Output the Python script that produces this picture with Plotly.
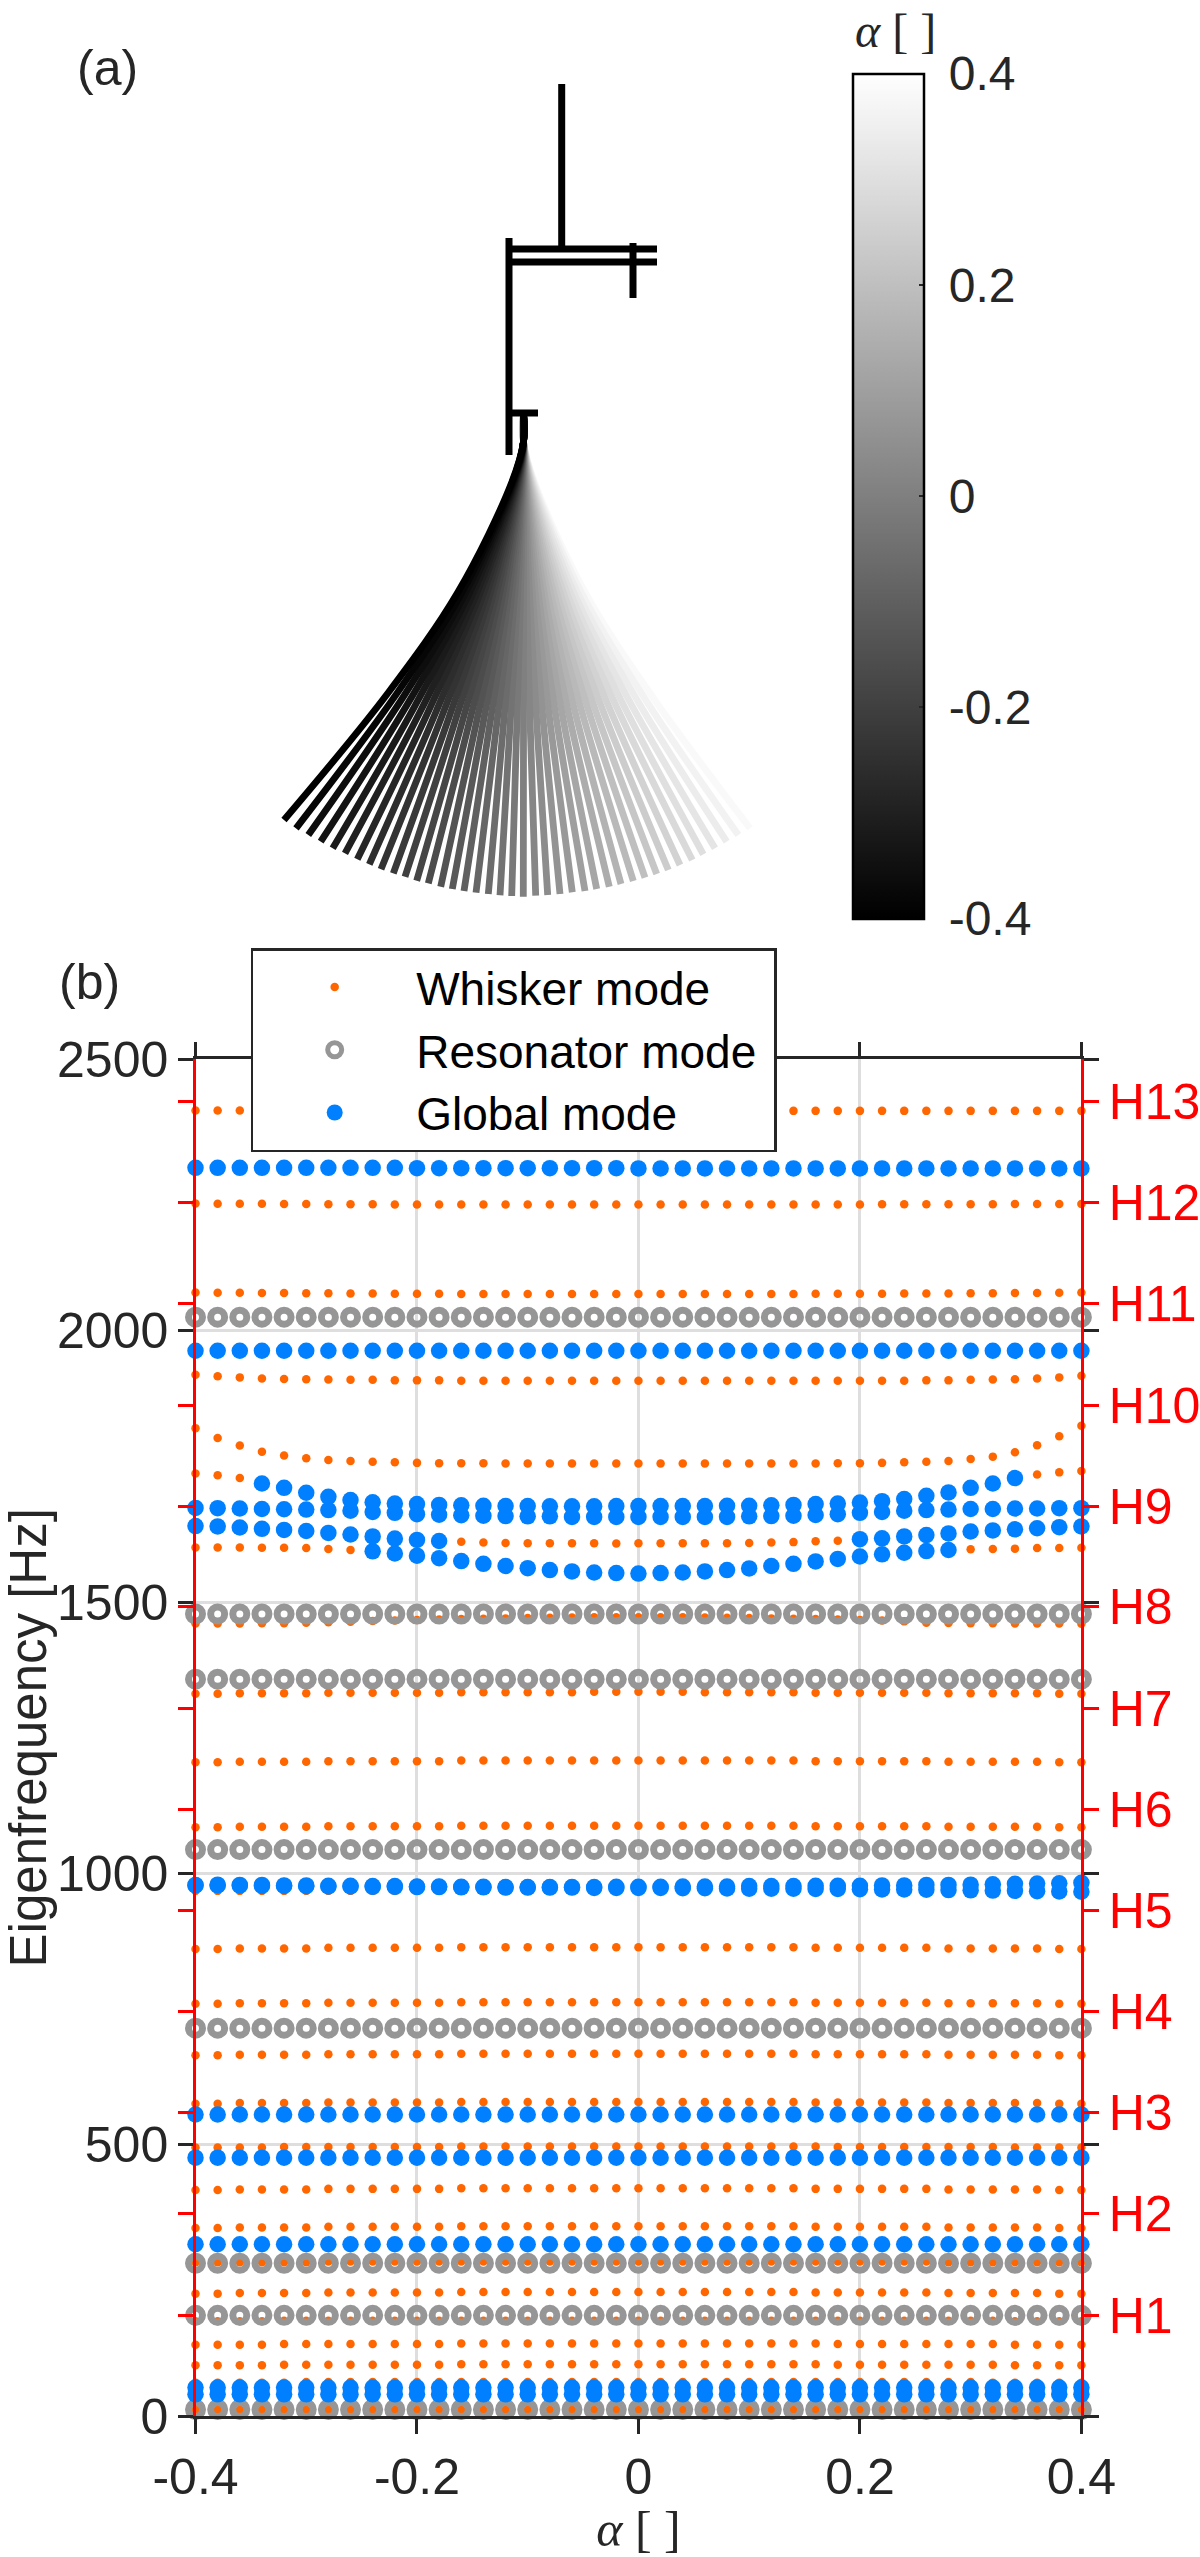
import plotly.graph_objects as go

W, H = 1200, 2557

# ---- panel (b): eigenfrequencies [Hz]
alpha = [-0.4, -0.38, -0.36, -0.34, -0.32, -0.3, -0.28, -0.26, -0.24, -0.22, -0.2, -0.18, -0.16, -0.14,
         -0.12, -0.1, -0.08, -0.06, -0.04, -0.02, 0, 0.02, 0.04, 0.06, 0.08, 0.1, 0.12, 0.14, 0.16, 0.18,
         0.2, 0.22, 0.24, 0.26, 0.28, 0.3, 0.32, 0.34, 0.36, 0.38, 0.4]
N = None

whisker = [
    [12, 12, 12, 12, 12, 12, 12, 12, 12, 12, 12, 12, 12, 12, 12, 12, 12, 12, 12, 12, 12, 12, 12, 12, 12, 12, 12, 12, 12, 12, 12, 12, 12, 12, 12, 12, 12, 12, 12, 12, 12],
    [62, 62, 62, 62, 62, 63, 63, 63, 63, 63, 63, 63, 63, 63, 63, 63, 63, 63, 63, 63, 63, 63, 63, 63, 63, 63, 63, 63, 63, 63, 63, 63, 63, 63, 63, 63, 62, 62, 62, 62, 62],
    [94, 94, 94, 94, 95, 95, 95, 95, 95, 95, 95, 95, 96, 96, 96, 96, 96, 96, 96, 96, 96, 96, 96, 96, 96, 96, 96, 96, 96, 95, 95, 95, 95, 95, 95, 95, 95, 94, 94, 94, 94],
    [132, 132, 132, 132, 133, 133, 133, 133, 133, 133, 133, 133, 134, 134, 134, 134, 134, 134, 134, 134, 134, 134, 134, 134, 134, 134, 134, 134, 134, 133, 133, 133, 133, 133, 133, 133, 133, 132, 132, 132, 132],
    [175, 175, 175, 175, 176, 176, 176, 176, 176, 176, 176, 176, 176, 176, 176, 176, 176, 176, 176, 176, 176, 176, 176, 176, 176, 176, 176, 176, 176, 176, 176, 176, 176, 176, 176, 176, 176, 175, 175, 175, 175],
    [226, 226, 227, 227, 227, 227, 228, 228, 228, 228, 228, 228, 229, 229, 229, 229, 229, 229, 229, 229, 229, 229, 229, 229, 229, 229, 229, 229, 228, 228, 228, 228, 228, 228, 227, 227, 227, 227, 227, 226, 226],
    [284, 284, 284, 284, 284, 284, 285, 285, 285, 285, 285, 285, 285, 285, 285, 285, 285, 285, 285, 285, 285, 285, 285, 285, 285, 285, 285, 285, 285, 285, 285, 285, 285, 285, 284, 284, 284, 284, 284, 284, 284],
    [347, 347, 348, 348, 348, 348, 349, 349, 349, 349, 349, 349, 350, 350, 350, 350, 350, 350, 350, 350, 350, 350, 350, 350, 350, 350, 350, 350, 349, 349, 349, 349, 349, 349, 348, 348, 348, 348, 348, 347, 347],
    [417, 417, 418, 418, 418, 418, 419, 419, 419, 419, 419, 419, 420, 420, 420, 420, 420, 420, 420, 420, 420, 420, 420, 420, 420, 420, 420, 420, 419, 419, 419, 419, 419, 419, 418, 418, 418, 418, 418, 417, 417],
    [495, 495, 495, 495, 496, 496, 496, 496, 496, 496, 496, 496, 497, 497, 497, 497, 497, 497, 497, 497, 497, 497, 497, 497, 497, 497, 497, 497, 497, 496, 496, 496, 496, 496, 496, 496, 496, 495, 495, 495, 495],
    [576, 576, 577, 577, 577, 577, 578, 578, 578, 578, 578, 578, 579, 579, 579, 579, 579, 579, 579, 579, 579, 579, 579, 579, 579, 579, 579, 579, 578, 578, 578, 578, 578, 578, 577, 577, 577, 577, 577, 576, 576],
    [665, 665, 666, 666, 666, 666, 667, 667, 667, 667, 667, 667, 668, 668, 668, 668, 668, 668, 668, 668, 668, 668, 668, 668, 668, 668, 668, 668, 667, 667, 667, 667, 667, 667, 666, 666, 666, 666, 666, 665, 665],
    [760, 760, 761, 761, 761, 761, 762, 762, 762, 762, 762, 762, 763, 763, 763, 763, 763, 763, 763, 763, 763, 763, 763, 763, 763, 763, 763, 763, 762, 762, 762, 762, 762, 762, 761, 761, 761, 761, 761, 760, 760],
    [861, 861, 862, 862, 862, 862, 863, 863, 863, 863, 863, 863, 864, 864, 864, 864, 864, 864, 864, 864, 864, 864, 864, 864, 864, 864, 864, 864, 863, 863, 863, 863, 863, 863, 862, 862, 862, 862, 862, 861, 861],
    [968, 968, 968, 968, 968, 968, 968, 968, 968, 968, 968, 968, 968, 968, 968, 968, 968, 968, 968, 968, 968, 968, 968, 968, 968, 968, 968, 968, 968, 968, 968, 968, 968, 968, 968, 968, 968, 968, 968, 968, 968],
    [1085, 1085, 1086, 1086, 1086, 1086, 1087, 1087, 1087, 1087, 1087, 1087, 1088, 1088, 1088, 1088, 1088, 1088, 1088, 1088, 1088, 1088, 1088, 1088, 1088, 1088, 1088, 1088, 1087, 1087, 1087, 1087, 1087, 1087, 1086, 1086, 1086, 1086, 1086, 1085, 1085],
    [1205, 1205, 1206, 1206, 1206, 1206, 1207, 1207, 1207, 1207, 1207, 1207, 1208, 1208, 1208, 1208, 1208, 1208, 1208, 1208, 1208, 1208, 1208, 1208, 1208, 1208, 1208, 1208, 1207, 1207, 1207, 1207, 1207, 1207, 1206, 1206, 1206, 1206, 1206, 1205, 1205],
    [1331, 1331, 1332, 1332, 1332, 1332, 1333, 1333, 1333, 1333, 1333, 1333, 1334, 1334, 1334, 1334, 1334, 1334, 1335, 1335, 1335, 1335, 1335, 1334, 1334, 1334, 1334, 1334, 1333, 1333, 1333, 1333, 1333, 1333, 1332, 1332, 1332, 1332, 1332, 1331, 1331],
    [1460.5, 1460.5, 1460.5, 1461, 1461, 1462, 1463, 1464, 1465, 1466, 1467, 1468, 1469, 1469.5, 1470, 1470.5, 1471, 1471.5, 1472, 1472, 1472, 1472, 1472, 1471.5, 1471, 1470.5, 1470, 1469.5, 1469, 1468, 1467, 1466, 1464.5, 1462, 1461.5, 1461, 1461, 1460.5, 1460.5, 1460.5, 1460],
    # veering branch, whisker type only at its two ends and in the middle
    [1600.5, 1600.5, 1600.5, 1600, 1600, 1599.5, 1598, 1596, N, N, N, N, N, N, N, N, N, N, N, N, N, N, N, N, N, N, N, N, N, N, N, N, N, N, N, 1597.5, 1598, 1598.5, 1599.5, 1599.5, 1600],
    [N, N, N, N, N, N, N, N, N, N, N, N, 1611, 1610, 1609, 1608.5, 1608.5, 1608.5, 1608.5, 1608, 1608.5, 1608.5, 1608.5, 1608.5, 1608.5, 1609, 1610, 1610.5, 1612, 1613, N, N, N, N, N, N, N, N, N, N, N],
    [1737, 1733.5, 1728.5, N, N, N, N, N, N, N, N, N, N, N, N, N, N, N, N, N, N, N, N, N, N, N, N, N, N, N, N, N, N, N, N, N, N, N, 1735, 1739, 1741.5],
    [1820.5, 1802.5, 1788.5, 1777, 1770, 1765, 1762, 1760, 1758.5, 1757.5, 1756.5, 1756, 1756, 1756, 1755.5, 1755.5, 1755.5, 1755.5, 1755.5, 1755.5, 1755.5, 1755.5, 1755.5, 1755.5, 1755.5, 1755.5, 1755.5, 1755.5, 1755.5, 1756, 1756, 1756.5, 1757.5, 1758.5, 1760, 1763.5, 1768, 1776, 1789, 1805.5, 1825],
    [1919, 1916, 1914, 1912, 1911, 1910.5, 1910, 1909.5, 1909.5, 1908.5, 1908.5, 1908.5, 1908, 1908, 1908, 1908, 1908, 1908, 1908, 1908, 1908, 1908, 1908, 1908, 1908, 1908, 1908, 1908, 1908, 1908, 1908, 1908, 1908, 1908.5, 1908.5, 1909.5, 1910, 1910.5, 1912, 1914, 1917],
    [2070.5, 2070, 2070, 2069.5, 2069.5, 2069, 2069, 2068.5, 2068.5, 2068, 2068, 2068, 2067.5, 2067.5, 2067.5, 2067.5, 2067.5, 2067.5, 2067.5, 2067.5, 2067.5, 2067.5, 2067.5, 2067.5, 2067.5, 2067.5, 2067.5, 2067.5, 2068, 2068, 2068, 2068, 2068.5, 2068.5, 2068.5, 2069, 2069, 2069.5, 2069.5, 2070, 2070.5],
    [2234.5, 2234, 2234, 2234, 2233.5, 2233.5, 2233, 2233, 2233, 2232.5, 2232.5, 2232.5, 2232.5, 2232.5, 2232.5, 2232.5, 2232.5, 2232.5, 2232.5, 2232.5, 2232.5, 2232.5, 2232.5, 2232.5, 2232.5, 2232.5, 2232.5, 2232.5, 2232.5, 2232.5, 2232.5, 2233, 2233, 2233, 2233, 2233, 2233, 2233.5, 2233.5, 2233.5, 2233.5],
    [2405.5, 2405.5, 2405.5, 2405.5, 2405.5, 2405.5, 2405.5, 2405.5, 2405.5, 2405.5, 2405.5, 2405.5, 2405.5, 2405.5, 2405.5, 2405.5, 2405.5, 2405.5, 2405.5, 2405.5, 2405, 2405, 2405, 2405, 2405, 2405, 2405, 2405, 2405, 2405, 2405, 2405, 2405, 2405, 2405, 2405, 2405, 2405, 2405, 2405, 2405],
]

resonator = [
    [12.5, 12.5, 12.5, 12.5, 12.5, 12.5, 12.5, 12.5, 12.5, 12.5, 12.5, 12.5, 12.5, 12.5, 12.5, 12.5, 12.5, 12.5, 12.5, 12.5, 12.5, 12.5, 12.5, 12.5, 12.5, 12.5, 12.5, 12.5, 12.5, 12.5, 12.5, 12.5, 12.5, 12.5, 12.5, 12.5, 12.5, 12.5, 12.5, 12.5, 12.5],
    [186, 186, 186, 186, 186, 186, 186, 186, 186, 186, 186, 186, 186, 186, 186, 186, 186, 186, 186, 186, 186, 186, 186, 186, 186, 186, 186, 186, 186, 186, 186, 186, 186, 186, 186, 186, 186, 186, 186, 186, 186],
    [282, 282, 282, 282, 282, 282, 282, 282, 282, 282, 282, 282, 282, 282, 282, 282, 282, 282, 282, 282, 282, 282, 282, 282, 282, 282, 282, 282, 282, 282, 282, 282, 282, 282, 282, 282, 282, 282, 282, 282, 282],
    [715, 715, 715, 715, 715, 715, 715, 715, 715, 715, 715, 715, 715, 715, 715, 715, 715, 715, 715, 715, 715, 715, 715, 715, 715, 715, 715, 715, 715, 715, 715, 715, 715, 715, 715, 715, 715, 715, 715, 715, 715],
    [1044, 1044, 1044, 1044, 1044, 1044, 1044, 1044, 1044, 1044, 1044, 1044, 1044, 1044, 1044, 1044, 1044, 1044, 1044, 1044, 1044, 1044, 1044, 1044, 1044, 1044, 1044, 1044, 1044, 1044, 1044, 1044, 1044, 1044, 1044, 1044, 1044, 1044, 1044, 1044, 1044],
    [1358, 1358, 1358, 1358, 1358, 1358, 1358, 1358, 1358, 1358, 1358, 1358, 1358, 1358, 1358, 1358, 1358, 1358, 1358, 1358, 1358, 1358, 1358, 1358, 1358, 1358, 1358, 1358, 1358, 1358, 1358, 1358, 1358, 1358, 1358, 1358, 1358, 1358, 1358, 1358, 1358],
    [1478, 1478, 1478, 1478, 1478, 1478, 1478, 1478, 1478, 1478, 1478, 1478, 1478, 1478, 1478, 1478, 1478, 1478, 1478, 1478, 1478, 1478, 1478, 1478, 1478, 1478, 1478, 1478, 1478, 1478, 1478, 1478, 1478, 1478, 1478, 1478, 1478, 1478, 1478, 1478, 1478],
    [2025, 2025, 2025, 2025, 2025, 2025, 2025, 2025, 2025, 2025, 2025, 2025, 2025, 2025, 2025, 2025, 2025, 2025, 2025, 2025, 2025, 2025, 2025, 2025, 2025, 2025, 2025, 2025, 2025, 2025, 2025, 2025, 2025, 2025, 2025, 2025, 2025, 2025, 2025, 2025, 2025],
]

global_mode = [
    [40.5, 40.5, 40.5, 40.5, 40.5, 40.5, 40.5, 40.5, 40.5, 40.5, 40.5, 40.5, 40.5, 40.5, 40.5, 40.5, 40.5, 40.5, 40.5, 40.5, 40.5, 40.5, 40.5, 40.5, 40.5, 40.5, 40.5, 40.5, 40.5, 40.5, 40.5, 40.5, 40.5, 40.5, 40.5, 40.5, 40.5, 40.5, 40.5, 40.5, 40.5],
    [53, 53, 53, 53, 53, 53, 53, 53, 53, 53, 53, 53, 53, 53, 53, 53, 53, 53, 53, 53, 53, 53, 53, 53, 53, 53, 53, 53, 53, 53, 53, 53, 53, 53, 53, 53, 53, 53, 53, 53, 53],
    [317, 317, 317, 317, 317, 317, 317, 317, 317, 317, 317, 317, 317, 317, 317, 317, 317, 317, 317, 317, 317, 317, 317, 317, 317, 317, 317, 317, 317, 317, 317, 317, 317, 317, 317, 317, 317, 317, 317, 317, 317],
    [476.5, 476.5, 476.5, 476.5, 476.5, 476.5, 476.5, 476.5, 476.5, 476.5, 476.5, 476.5, 476.5, 476.5, 476.5, 476.5, 476.5, 476.5, 476.5, 476.5, 476.5, 476.5, 476.5, 476.5, 476.5, 476.5, 476.5, 476.5, 476.5, 476.5, 476.5, 476.5, 476.5, 476.5, 476.5, 476.5, 476.5, 476.5, 476.5, 476.5, 476.5],
    [556, 556, 556, 556, 556, 556, 556, 556, 556, 556, 556, 556, 556, 556, 556, 556, 556, 556, 556, 556, 556, 556, 556, 556, 556, 556, 556, 556, 556, 556, 556, 556, 556, 556, 556, 556, 556, 556, 556, 556, 556],
    [979, 979.5, 979, 979, 978, 978, 977.5, 977.5, 977, 977, 976, 976, 975.5, 975.5, 975, 975, 975, 975, 975, 975.5, 975.5, 975.5, 976, 976, 976, 977, 977, 977, 977.5, 977.5, 977.5, 978, 978, 979, 979, 979.5, 980, 981, 981.5, 982, 983],
    [978, 978, 977.5, 977, 977, 976.5, 976, 976, 975.5, 975.5, 975, 975, 974.5, 974.5, 974, 974, 974, 974, 973.5, 973.5, 973.5, 973.5, 973, 973, 972.5, 972, 972, 972, 971.5, 971.5, 971, 970.5, 970.5, 970, 969.5, 969, 968.5, 968, 967.5, 967, 966.5],
    [1963, 1963, 1963, 1963, 1963, 1963, 1963, 1963, 1963, 1963, 1963, 1963, 1963, 1963, 1963, 1963, 1963, 1963, 1963, 1963, 1963, 1963, 1963, 1963, 1963, 1963, 1963, 1963, 1963, 1963, 1963, 1963, 1963, 1963, 1963, 1963, 1963, 1963, 1963, 1963, 1963],
    [2300, 2300, 2300, 2300, 2300, 2300, 2300, 2300, 2300, 2300, 2299.5, 2299.5, 2299.5, 2299.5, 2299.5, 2299.5, 2299.5, 2299.5, 2299.5, 2299.5, 2299, 2299, 2299, 2299, 2299, 2299, 2299, 2299, 2299, 2299, 2299, 2299, 2299, 2299, 2299, 2299, 2299, 2299, 2299, 2299, 2299],
    # the veering branches around H8-H9
    [N, N, N, N, N, N, N, N, 1593.5, 1589.5, 1585.5, 1581, 1575.5, 1570.5, 1566.5, 1562.5, 1559, 1556.5, 1554.5, 1553.5, 1552.5, 1553.5, 1554.5, 1556.5, 1559, 1562, 1566.5, 1570.5, 1575, 1579.5, 1584, 1588, 1591, 1594, 1596, N, N, N, N, N, N],
    [1640, 1639.5, 1637.5, 1635, 1633, 1631, 1627.5, 1624.5, 1621, 1617, 1614.5, 1612.5, N, N, N, N, N, N, N, N, N, N, N, N, N, N, N, N, N, N, 1616, 1617.5, 1621, 1623.5, 1626.5, 1630, 1632, 1634, 1636, 1638, 1639.5],
    [1673.5, 1673, 1672.5, 1671.5, 1671, 1670.5, 1669.5, 1668.5, 1666, 1664.5, 1662, 1661, 1660, 1659, 1658.5, 1658, 1658, 1657, 1657, 1657, 1657, 1657, 1657, 1657, 1657, 1658, 1658.5, 1659, 1660.5, 1662, 1664.5, 1666, 1668.5, 1669.5, 1670.5, 1671.5, 1671.5, 1672.5, 1672.5, 1673, 1673],
    [N, N, N, 1718.5, 1710.5, 1701.5, 1694, 1688, 1684, 1681.5, 1680.5, 1679, 1678.5, 1677.5, 1677, 1677, 1676.5, 1676.5, 1676.5, 1677, 1677, 1677, 1677, 1677, 1677.5, 1677.5, 1678.5, 1679, 1680.5, 1681.5, 1683.5, 1686, 1690, 1696, 1702, 1710.5, 1718.5, 1728.5, N, N, N],
]

harmonic_hz = [186, 373, 559, 745, 932, 1118, 1304, 1491, 1677, 1863, 2050, 2236, 2423]
harmonic_labels = ["H1", "H2", "H3", "H4", "H5", "H6", "H7", "H8", "H9", "H10", "H11", "H12", "H13"]
freq_ticks = [0, 500, 1000, 1500, 2000, 2500]
alpha_ticks = [-0.4, -0.2, 0, 0.2, 0.4]
alpha_tick_labels = ["-0.4", "-0.2", "0", "0.2", "0.4"]

# ---- panel (a): geometry in picture units (px from the top left)
frame_x = [
    [561.7, 561.7],
    [509, 509],
    [510, 657],
    [510, 657],
    [633, 633],
    [512, 538],
]
frame_y = [
    [84, 247],
    [238, 455],
    [249, 249],
    [262, 262],
    [243, 298],
    [413, 413],
]
stem_x = [523.5, 523.5]
stem_y = [413, 442]
# one point per whisker (alpha = -0.4 ... 0.4) on each of 4 stations along its length
st1_x = [511.5, 512.1, 512.7, 513.3, 513.9, 514.5, 515.1, 515.7, 516.3, 516.9, 517.5, 518.1, 518.7, 519.3, 519.9, 520.5, 521.1, 521.7, 522.3, 522.9, 523.5,
         524.1, 524.7, 525.3, 525.9, 526.5, 527.1, 527.7, 528.3, 528.9, 529.5, 530.1, 530.7, 531.3, 531.9, 532.5, 533.1, 533.7, 534.3, 534.9, 535.5]
st1_y = [483, 483.2, 483.4, 483.6, 483.7, 483.9, 484, 484.2, 484.3, 484.4, 484.5, 484.6, 484.7, 484.8, 484.8, 484.9, 484.9, 485, 485, 485, 485,
         485, 485, 485, 484.9, 484.9, 484.8, 484.8, 484.7, 484.6, 484.5, 484.4, 484.3, 484.2, 484, 483.9, 483.7, 483.6, 483.4, 483.2, 483]
st2_x = [458, 461.3, 464.5, 467.8, 471.1, 474.4, 477.6, 480.9, 484.2, 487.5, 490.7, 494, 497.3, 500.6, 503.8, 507.1, 510.4, 513.7, 516.9, 520.2, 523.5,
         526.8, 530.1, 533.3, 536.6, 539.9, 543.2, 546.4, 549.7, 553, 556.3, 559.5, 562.8, 566.1, 569.4, 572.6, 575.9, 579.2, 582.5, 585.7, 589]
st2_y = [592, 593.5, 594.8, 596.2, 597.4, 598.6, 599.6, 600.7, 601.6, 602.5, 603.2, 604, 604.6, 605.2, 605.6, 606.1, 606.4, 606.7, 606.8, 607, 607,
         607, 606.8, 606.7, 606.4, 606.1, 605.6, 605.2, 604.6, 604, 603.2, 602.5, 601.6, 600.7, 599.6, 598.6, 597.4, 596.2, 594.8, 593.5, 592]
st3_x = [388, 394.8, 401.5, 408.3, 415.1, 421.9, 428.6, 435.4, 442.2, 449, 455.7, 462.5, 469.3, 476.1, 482.8, 489.6, 496.4, 503.2, 509.9, 516.7, 523.5,
         530.3, 537.1, 543.8, 550.6, 557.4, 564.2, 570.9, 577.7, 584.5, 591.3, 598, 604.8, 611.6, 618.4, 625.1, 631.9, 638.7, 645.5, 652.2, 659]
st3_y = [693, 696.4, 699.6, 702.7, 705.6, 708.3, 710.8, 713.2, 715.4, 717.4, 719.2, 720.9, 722.4, 723.7, 724.8, 725.8, 726.6, 727.2, 727.6, 727.9, 728,
         727.9, 727.6, 727.2, 726.6, 725.8, 724.8, 723.7, 722.4, 720.9, 719.2, 717.4, 715.4, 713.2, 710.8, 708.3, 705.6, 702.7, 699.6, 696.4, 693]
tip_x = [284, 296, 308.3, 320.7, 332.7, 345, 357.3, 369.3, 381, 393.3, 405, 416.7, 428.3, 440.7, 452.3, 464, 476, 488.3, 500, 511.7, 523.3,
         535.7, 547.7, 560, 572.3, 585, 596.7, 609.3, 621, 633.3, 645, 656.7, 668.3, 680, 692.3, 703.3, 715, 726.7, 738.3, 750, 760]
tip_y = [820, 828.3, 835, 841.7, 848.3, 853.3, 859.3, 864.3, 869.3, 873.3, 876.7, 880.7, 883.3, 886.7, 889, 891, 892.7, 894, 895.3, 896, 896.7,
         895.7, 895, 894, 892.3, 891, 889, 886.7, 884, 881, 877.7, 874, 870, 865, 860, 854.3, 848.3, 841.7, 835, 828.3, 821.7]

INK = "#262626"
FONT = "Liberation Sans"
ORANGE = "#FF6600"
GRAY = "#969696"
BLUE = "#0080FF"


def flatten(branches):
    xs, ys = [], []
    for branch in branches:
        for a, f in zip(alpha, branch):
            if f is not None:
                xs.append(a)
                ys.append(f)
    return xs, ys


def gray_of(a):
    level = int(round((a + 0.4) / 0.8 * 255))
    return f"rgb({level},{level},{level})"


fig = go.Figure()

# fan of whiskers: light ones first, the dark ones end up on top
for i in range(len(alpha) - 1, -1, -1):
    fig.add_trace(go.Scatter(
        x=stem_x + [st1_x[i], st2_x[i], st3_x[i], tip_x[i]],
        y=stem_y + [st1_y[i], st2_y[i], st3_y[i], tip_y[i]],
        mode="lines", line=dict(color=gray_of(alpha[i]), width=6.8, shape="spline"),
        xaxis="x3", yaxis="y3", showlegend=False, hoverinfo="skip"))
for fx, fy in zip(frame_x, frame_y):
    fig.add_trace(go.Scatter(x=fx, y=fy, mode="lines", line=dict(color="black", width=7),
                             xaxis="x3", yaxis="y3", showlegend=False, hoverinfo="skip"))

fig.add_trace(go.Scatter(
    x=[None], y=[None], mode="markers", xaxis="x3", yaxis="y3", showlegend=False,
    marker=dict(color=[-0.4, 0.4], cmin=-0.4, cmax=0.4,
                colorscale=[[0, "black"], [1, "white"]], showscale=True,
                colorbar=dict(
                    x=853 / W, xanchor="left", y=1 - 73.5 / H, yanchor="top",
                    len=845, lenmode="pixels", thickness=71, thicknessmode="pixels",
                    outlinecolor="black", outlinewidth=2.5, ticks="inside", ticklen=6, tickwidth=2,
                    tickcolor=INK, tickvals=alpha_ticks, ticktext=["\u00a0" + t for t in alpha_tick_labels],
                    tickfont=dict(family=FONT, size=48, color=INK), xpad=0, ypad=0))))

x_w, y_w = flatten(whisker)
x_r, y_r = flatten(resonator)
x_g, y_g = flatten(global_mode)
fig.add_trace(go.Scatter(x=x_w, y=y_w, mode="markers", name="Whisker mode", cliponaxis=False,
                         marker=dict(color=ORANGE, size=8.5)))
# trailing nbsp: the legend box is a bit wider than its longest entry
fig.add_trace(go.Scatter(x=x_r, y=y_r, mode="markers", name="Resonator mode\u00a0", cliponaxis=False,
                         marker=dict(symbol="circle-open", color=GRAY, size=14, line=dict(color=GRAY, width=7))))
fig.add_trace(go.Scatter(x=x_g, y=y_g, mode="markers", name="Global mode", cliponaxis=False,
                         marker=dict(color=BLUE, size=16.5)))
# the right-hand axis only needs something plotted on it to be drawn
fig.add_trace(go.Scatter(x=[alpha[0]], y=[0], mode="none", yaxis="y2", showlegend=False, hoverinfo="skip"))

fig.update_layout(
    width=W, height=H, autosize=False, paper_bgcolor="white", plot_bgcolor="rgba(0,0,0,0)",
    margin=dict(l=0, r=0, t=0, b=0, pad=0, autoexpand=False),
    font=dict(family=FONT, color=INK),
    xaxis=dict(domain=[195.5 / W, 1081.4 / W], range=[-0.4, 0.4], tickvals=alpha_ticks, ticktext=alpha_tick_labels,
               ticks="outside", ticklen=14.5, tickwidth=2.5, tickcolor=INK, linecolor=INK, linewidth=2.5,
               mirror="allticks", showgrid=True, gridcolor="#DEDEDE", gridwidth=2.5, zeroline=False,
               tickfont=dict(size=50, color=INK), layer="above traces", anchor="y", automargin=False,
               title=dict(text="<i>α</i> [ ]", font=dict(family="Liberation Serif", size=50, color=INK), standoff=6)),
    yaxis=dict(domain=[1 - 2416.3 / H, 1 - 1059.3 / H], range=[0, 2500], tickvals=freq_ticks,
               ticks="outside", ticklen=14.5, tickwidth=2.5, tickcolor=INK, linecolor=INK, linewidth=2.5,
               mirror="allticks", showgrid=True, gridcolor="#DEDEDE", gridwidth=2.5, zeroline=False,
               tickfont=dict(size=50, color=INK), layer="above traces", anchor="x", automargin=False,
               title=dict(text="Eigenfrequency [Hz]", font=dict(size=51, color=INK), standoff=13)),
    yaxis2=dict(overlaying="y", side="right", anchor="x", range=[0, 2500], tickvals=harmonic_hz, ticktext=harmonic_labels,
                ticks="outside", ticklen=14.5, tickwidth=2.5, tickcolor="red", linecolor="red", linewidth=2.5,
                mirror="allticks", showgrid=False, zeroline=False, tickfont=dict(size=50, color="red"),
                layer="above traces", automargin=False),
    xaxis3=dict(domain=[0, 1], range=[0, W], visible=False, anchor="y3"),
    yaxis3=dict(domain=[1 - 960 / H, 1], range=[960, 0], visible=False, anchor="x3"),
    legend=dict(x=250.7 / W, xanchor="left", y=1 - 948 / H, yanchor="top", bgcolor="white", bordercolor=INK, borderwidth=2.5,
                font=dict(size=46, color="black"), itemwidth=153, traceorder="normal", itemclick=False),
    annotations=[
        dict(text="(a)", x=75 / W, y=1 - 68 / H, xref="paper", yref="paper", xanchor="left", yanchor="middle",
             showarrow=False, font=dict(size=50, color=INK)),
        dict(text="(b)", x=57 / W, y=1 - 982 / H, xref="paper", yref="paper", xanchor="left", yanchor="middle",
             showarrow=False, font=dict(size=50, color=INK)),
        dict(text="<i>α</i> [ ]", x=853 / W, y=1 - 30 / H, xref="paper", yref="paper", xanchor="left", yanchor="middle",
             showarrow=False, font=dict(family="Liberation Serif", size=48, color=INK)),
    ],
)

fig.write_html("out.html", config={"displayModeBar": False}, post_script="document.body.style.margin='0';")
